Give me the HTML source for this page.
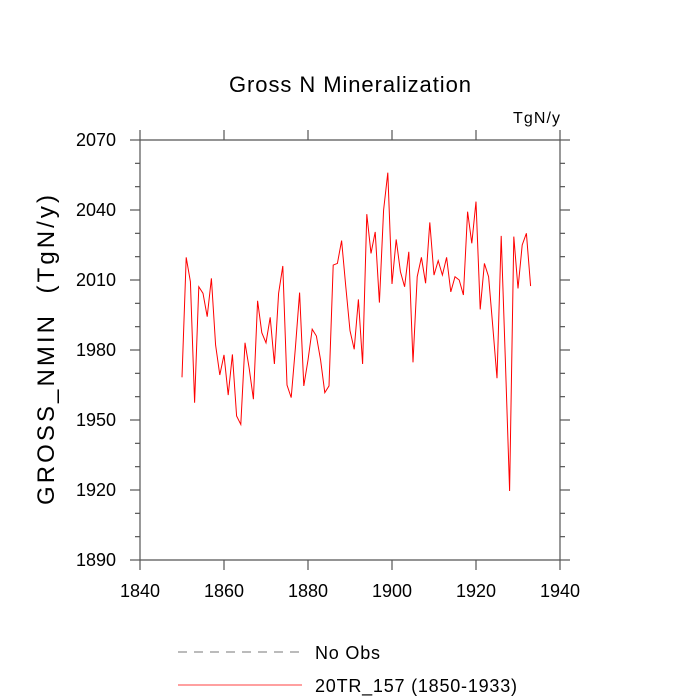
<!DOCTYPE html>
<html><head><meta charset="utf-8"><style>
body{margin:0;background:#fff}
svg{display:block;font-family:"Liberation Sans",sans-serif}
</style></head><body>
<svg id="chart" width="700" height="700">
<text x="229" y="92" textLength="242" font-size="22">Gross N Mineralization</text>
<text x="513" y="123" textLength="47" font-size="16">TgN/y</text>
<text transform="translate(54,505) rotate(-90)" textLength="310" font-size="24" xml:space="preserve">GROSS_NMIN  (TgN/y)</text>
<g id="axes"></g>
<g id="series"></g>
<g>
<line x1="178" y1="652" x2="302" y2="652" stroke="#777" stroke-dasharray="9,7"/>
<text x="315" y="659" textLength="65" font-size="18">No Obs</text>
<line x1="178" y1="685" x2="302" y2="685" stroke="red" stroke-width="0.8"/>
<text x="315" y="692" textLength="202" font-size="18">20TR_157 (1850-1933)</text>
</g>
</svg>
<script>
const years=[];for(let y=1850;y<=1933;y++)years.push(y);
const values=[1968.3,2019.7,2009.3,1957.4,2007.1,2004.3,1994.3,2010.7,1982.1,1969.3,1977.9,1960.7,1978.1,1951.7,1948.1,1983.1,1972.1,1958.9,2001.1,1987.4,1983.1,1994,1974,2004.3,2016,1965,1959.6,1981,2004.6,1964.6,1975.7,1988.9,1986,1975.7,1961.7,1964.6,2016.4,2017.1,2026.9,2007.1,1988.3,1980.3,2001.7,1974,2038.2,2021.4,2030.6,2000.3,2040,2056,2008.3,2027.4,2013.6,2007.1,2022.1,1974.7,2011.4,2019.7,2008.6,2034.7,2012.1,2018.3,2012.1,2019.7,2004.9,2011.4,2010,2003.6,2039.3,2025.7,2043.6,1997.4,2017.1,2011.4,1990,1967.9,2028.9,1975,1919.6,2028.6,2006.4,2025,2030,2007.4];
const xTicks=[1840,1860,1880,1900,1920,1940];
const yTicks=[1890,1920,1950,1980,2010,2040,2070];
const X0=140,X1=560,Y0=560,Y1=140;
const sx=v=>X0+(v-1840)/100*(X1-X0);
const sy=v=>Y0-(v-1890)/180*(Y0-Y1);
const NS="http://www.w3.org/2000/svg";
const ax=document.getElementById('axes');
function ln(x1,y1,x2,y2,name){const l=document.createElementNS(NS,'line');l.setAttribute('x1',x1);l.setAttribute('y1',y1);l.setAttribute('x2',x2);l.setAttribute('y2',y2);l.setAttribute('stroke','#555');l.setAttribute('stroke-width','1.2');


ax.appendChild(l);}
ln(X0,Y1,X1,Y1,'plot-frame-top');ln(X0,Y0,X1,Y0,'plot-frame-bottom');ln(X0,Y1,X0,Y0,'plot-frame-left');ln(X1,Y1,X1,Y0,'plot-frame-right');
xTicks.forEach(t=>{const x=sx(t);ln(x,Y0,x,Y0+10,'x-tick');ln(x,Y1,x,Y1-10,'x-tick-top');
const tx=document.createElementNS(NS,'text');tx.setAttribute('x',x);tx.setAttribute('y',Y0+37);tx.setAttribute('text-anchor','middle');tx.setAttribute('font-size','18');tx.textContent=t;


ax.appendChild(tx);});
for(let v=1890;v<=2070;v+=10){const y=sy(v);const major=(v-1890)%30===0;const L=major?10:5;ln(X0-L,y,X0,y,'y-tick');ln(X1,y,X1+L,y,'y-tick-right');}
yTicks.forEach(t=>{const tx=document.createElementNS(NS,'text');tx.setAttribute('x',116);tx.setAttribute('y',sy(t)+6);tx.setAttribute('text-anchor','end');tx.setAttribute('font-size','18');tx.textContent=t;


ax.appendChild(tx);});
const p=document.createElementNS(NS,'polyline');
p.setAttribute('points',years.map((y,i)=>sx(y)+','+sy(values[i])).join(' '));
p.setAttribute('fill','none');p.setAttribute('stroke','red');p.setAttribute('stroke-width','1');


document.getElementById('series').appendChild(p);
</script>
</body></html>
